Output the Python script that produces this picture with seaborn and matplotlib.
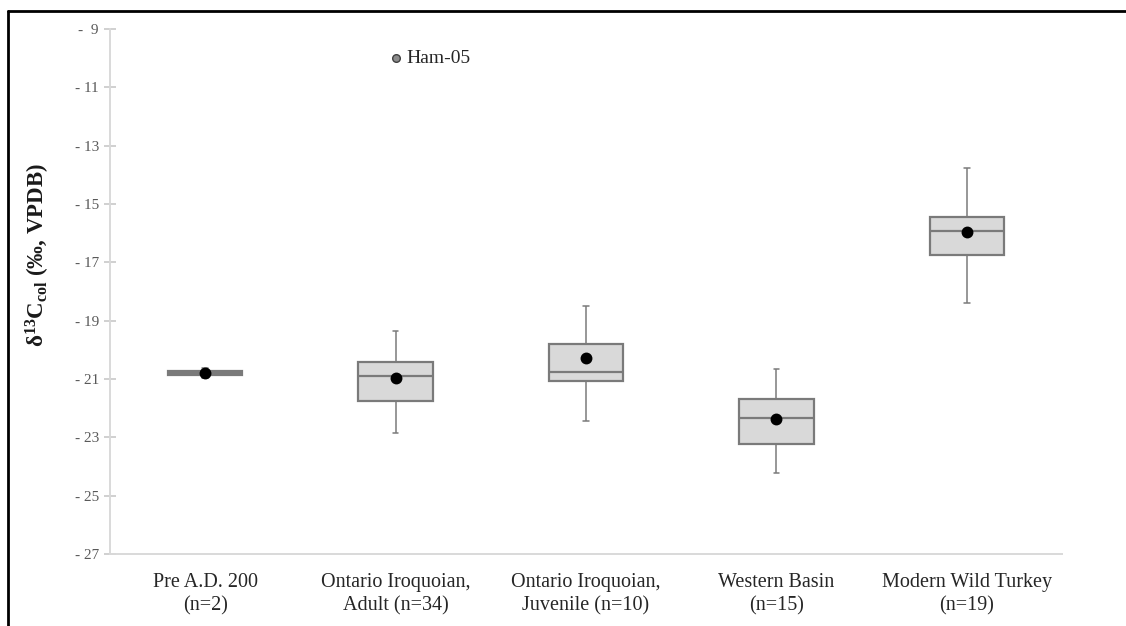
import numpy as np
import pandas as pd
import seaborn as sns
import matplotlib
matplotlib.use("Agg")
from matplotlib import pyplot as plt
from matplotlib.lines import Line2D

# five-number summaries (d13C, permil)
groups = ["Pre A.D. 200\n(n=2)", "Ontario Iroquoian,\nAdult (n=34)",
          "Ontario Iroquoian,\nJuvenile (n=10)", "Western Basin\n(n=15)",
          "Modern Wild Turkey\n(n=19)"]
whisker_low = [-20.98, -22.84, -22.43, -24.22, -18.38]
q1 = [-20.87, -21.77, -21.07, -23.22, -16.76]
median = [-20.80, -20.90, -20.76, -22.35, -15.93]
q3 = [-20.74, -20.42, -19.81, -21.68, -15.45]
whisker_high = [-20.62, -19.35, -18.49, -20.67, -13.78]
mean = [-20.80, -20.97, -20.28, -22.37, -15.95]

outlier_group = groups[1]
outlier_value = -10.0
outlier_label = "Ham-05"

y_ticks = list(range(-27, -8, 2))

# long table: one row per summary value, so box = q1..q3 and whiskers = min..max
rows = []
for i, g in enumerate(groups):
    for v in (whisker_low[i], q1[i], median[i], q3[i], whisker_high[i]):
        rows.append({"group": g, "d13C": v})
df = pd.DataFrame(rows)

sns.set_theme(style="white")
plt.rcParams["font.family"] = ["Liberation Serif", "DejaVu Serif"]
plt.rcParams["mathtext.fontset"] = "custom"
plt.rcParams["mathtext.rm"] = "Liberation Serif"
plt.rcParams["mathtext.bf"] = "Liberation Serif:bold"
plt.rcParams["mathtext.default"] = "bf"

fig = plt.figure(figsize=(11.26, 6.26), dpi=100)
ax = fig.add_axes([110 / 1126, 72 / 626, 952 / 1126, 525 / 626])

sns.boxplot(data=df, x="group", y="d13C", order=groups, whis=(0, 100),
            width=0.39, color="#d9d9d9", saturation=1, linecolor="#7a7a7a",
            linewidth=1.6, showfliers=False, capwidths=0.03,
            whiskerprops=dict(linewidth=1.1), capprops=dict(linewidth=1.1),
            ax=ax)

sns.pointplot(x=groups, y=mean, order=groups, linestyle="none", color="black",
              markers="o", markersize=6.5, errorbar=None, ax=ax, zorder=5)

sns.stripplot(x=[outlier_group], y=[outlier_value], order=groups, jitter=False,
              color="#8c8c8c", edgecolor="#404040", linewidth=1, size=5.5, ax=ax)
ax.annotate(outlier_label, xy=(groups.index(outlier_group), outlier_value),
            xytext=(8, 0), textcoords="offset points", va="center",
            fontsize=14, color="#262626")

ax.set_xlim(-0.5, len(groups) - 0.5)
ax.set_ylim(-27, -9)
ax.set_yticks(y_ticks)
ax.set_yticklabels([f"- {abs(t)}" if abs(t) >= 10 else f"-  {abs(t)}" for t in y_ticks],
                   fontsize=11, color="#595959")
ax.set_xticks(range(len(groups)))
ax.set_xticklabels(groups, fontsize=14.5, color="#262626", linespacing=1.25)
ax.set_xticks(np.arange(-0.5, len(groups), 1), minor=True)
ax.tick_params(axis="x", which="major", length=0, pad=14)
ax.tick_params(axis="x", which="minor", length=9, direction="inout", color="#c8c8c8", width=1.2)
ax.tick_params(axis="y", length=8, direction="inout", color="#c8c8c8", width=1.2, pad=4, left=True)

for side in ["top", "right"]:
    ax.spines[side].set_visible(False)
for side in ["left", "bottom"]:
    ax.spines[side].set_color("#d9d9d9")
    ax.spines[side].set_linewidth(1.4)

ax.set_xlabel("")
ax.set_ylabel(r"δ$^{13}$C$_{col}$ (‰, VPDB)", fontsize=16.5, fontweight="bold", color="#1a1a1a")
ax.yaxis.set_label_coords(-0.061, 0.57)

# frame of the source image (only left and top edges visible)
fig.add_artist(Line2D([8 / 1126, 8 / 1126], [0, 1 - 11 / 626], transform=fig.transFigure,
                      color="black", lw=2))
fig.add_artist(Line2D([8 / 1126, 1], [1 - 11 / 626, 1 - 11 / 626], transform=fig.transFigure,
                      color="black", lw=2))

fig.savefig("out.png", dpi=100, facecolor="white")
